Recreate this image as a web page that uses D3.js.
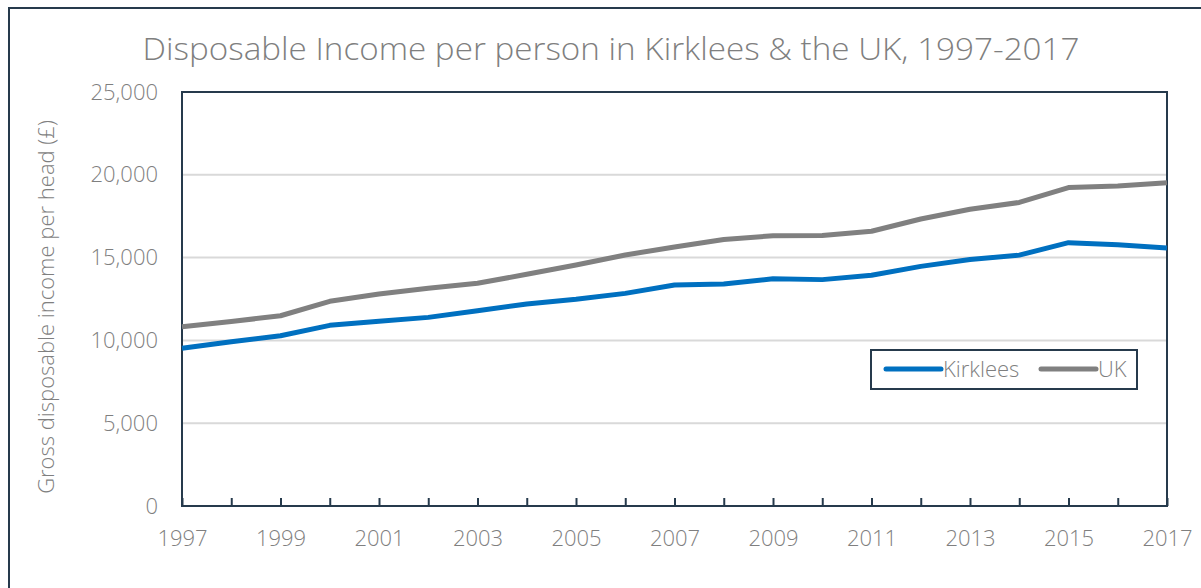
<!DOCTYPE html>
<html>
<head>
<meta charset="utf-8">
<script src="https://cdn.jsdelivr.net/npm/d3@7/dist/d3.min.js"></script>
<style>
  html, body { margin: 0; padding: 0; background: #fff; }
  svg { display: block; }
  text { font-family: "Open Sans", "Lato", sans-serif; font-weight: 300; fill: #7f7f7f; }
</style>
</head>
<body>
<svg id="chart" width="1201" height="588"></svg>
<script>
// Gross disposable household income per head (£), 1997-2017
const years = d3.range(1997, 2018);
const kirklees = [9520, 9920, 10280, 10910, 11150, 11390, 11790, 12200, 12480, 12840,
                  13350, 13400, 13720, 13670, 13930, 14470, 14880, 15150, 15900, 15770, 15580];
const uk = [10830, 11140, 11490, 12360, 12800, 13150, 13450, 13990, 14550, 15160,
            15640, 16090, 16320, 16340, 16590, 17330, 17920, 18330, 19230, 19320, 19520];
const yTicks = [0, 5000, 10000, 15000, 20000, 25000];
const xLabels = d3.range(1997, 2018, 2);
const seriesNames = ["Kirklees", "UK"];
const seriesColors = ["#0070c0", "#808080"];

const svg = d3.select("#chart");
const frame = "#263a4c";
const fontPx = 22;

// outer chart frame
svg.append("rect")
  .attr("x", 9).attr("y", 8).attr("width", 1220).attr("height", 620)
  .attr("fill", "none").attr("stroke", frame).attr("stroke-width", 2);

const plot = { left: 182, right: 1167, top: 92, bottom: 506 };

const x = d3.scaleLinear().domain([1997, 2017]).range([plot.left, plot.right]);
const y = d3.scaleLinear().domain([0, 25000]).range([plot.bottom, plot.top]);

// title
svg.append("text")
  .attr("x", 611).attr("y", 60)
  .attr("text-anchor", "middle")
  .attr("font-size", 32)
  .attr("textLength", 937)
  .attr("lengthAdjust", "spacingAndGlyphs")
  .text("Disposable Income per person in Kirklees & the UK, 1997-2017");

// horizontal gridlines
svg.append("g")
  .selectAll("line")
  .data(yTicks.filter(d => d > 0 && d < 25000))
  .join("line")
  .attr("x1", plot.left).attr("x2", plot.right)
  .attr("y1", d => y(d)).attr("y2", d => y(d))
  .attr("stroke", "#d9d9d9").attr("stroke-width", 2);

// y axis labels
const yAxis = d3.axisLeft(y).tickValues(yTicks).tickSize(0).tickPadding(24)
  .tickFormat(d3.format(","));
const gy = svg.append("g").attr("transform", `translate(${plot.left},0)`).call(yAxis);
gy.select(".domain").remove();
gy.selectAll("text").attr("font-size", fontPx).attr("fill", "#7f7f7f")
  .style("font-family", "'Open Sans', sans-serif").style("font-weight", 300);

// x axis with inward ticks at every year
const xAxis = d3.axisBottom(x).tickValues(years).tickSize(0).tickPadding(0)
  .tickFormat(d => xLabels.includes(d) ? d : "");
const gx = svg.append("g").attr("transform", `translate(0,${plot.bottom})`).call(xAxis);
gx.select(".domain").remove();
gx.selectAll(".tick line").attr("y2", -8).attr("stroke", frame).attr("stroke-width", 2);
gx.selectAll("text").attr("font-size", fontPx).attr("fill", "#7f7f7f").attr("dy", 0).attr("y", 40)
  .style("font-family", "'Open Sans', sans-serif").style("font-weight", 300);

// plot area border
svg.append("rect")
  .attr("x", plot.left).attr("y", plot.top)
  .attr("width", plot.right - plot.left).attr("height", plot.bottom - plot.top)
  .attr("fill", "none").attr("stroke", frame).attr("stroke-width", 2);

// y axis title
svg.append("text")
  .attr("transform", `translate(54,${(plot.top + plot.bottom) / 2 + 8}) rotate(-90)`)
  .attr("text-anchor", "middle")
  .attr("font-size", fontPx)
  .text("Gross disposable income per head (£)");

// series lines
const line = d3.line().x((d, i) => x(years[i])).y(d => y(d));
[kirklees, uk].forEach((vals, i) => {
  svg.append("path")
    .datum(vals)
    .attr("d", line)
    .attr("fill", "none")
    .attr("stroke", seriesColors[i])
    .attr("stroke-width", 5)
    .attr("stroke-linejoin", "round");
});

// legend
const lg = svg.append("g");
lg.append("rect")
  .attr("x", 871).attr("y", 350).attr("width", 266).attr("height", 39)
  .attr("fill", "#fff").attr("stroke", frame).attr("stroke-width", 2);
const legendX = [886, 1041];
seriesNames.forEach((name, i) => {
  lg.append("line")
    .attr("x1", legendX[i]).attr("x2", legendX[i] + 55)
    .attr("y1", 369).attr("y2", 369)
    .attr("stroke", seriesColors[i]).attr("stroke-width", 5)
    .attr("stroke-linecap", "round");
  lg.append("text")
    .attr("x", legendX[i] + 57).attr("y", 377)
    .attr("font-size", fontPx)
    .text(name);
});
</script>
</body>
</html>
